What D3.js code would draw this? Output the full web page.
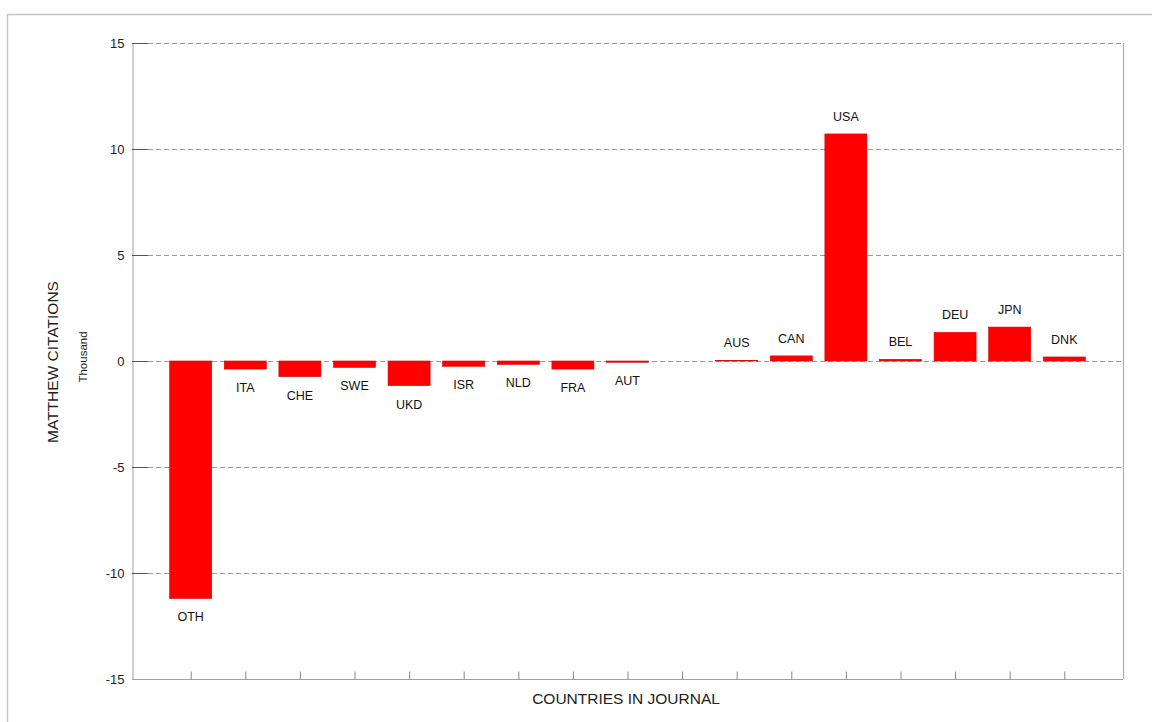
<!DOCTYPE html>
<html>
<head>
<meta charset="utf-8">
<script src="https://cdn.jsdelivr.net/npm/d3@7"></script>
<style>
  html, body { margin: 0; padding: 0; background: #fff; }
  svg { display: block; font-family: "Liberation Sans", Arial, Helvetica, sans-serif; }
</style>
</head>
<body>
<svg id="chart" width="1152" height="722"></svg>
<script>
// Data (values in thousands)
const categories = ["OTH","ITA","CHE","SWE","UKD","ISR","NLD","FRA","AUT","","AUS","CAN","USA","BEL","DEU","JPN","DNK"];
const values     = [-11.2,-0.38,-0.74,-0.3,-1.16,-0.25,-0.16,-0.38,-0.06,0,0.03,0.24,10.71,0.08,1.35,1.6,0.19];
const yTicks = [-15,-10,-5,0,5,10,15];
const yLabel = "MATTHEW CITATIONS";
const yUnit = "Thousand";
const xLabel = "COUNTRIES IN JOURNAL";

const svg = d3.select("#chart");
const L = 132, R = 1123, T = 43, B = 679;

// Outer frame
svg.append("path").attr("d", `M7.5,722 L7.5,14.5 L1152,14.5`)
  .attr("fill","none").attr("stroke","#c4c4c4").attr("stroke-width",1.5);

const y = d3.scaleLinear().domain([-15,15]).range([B,T]);
const x = d3.scalePoint().domain(d3.range(categories.length)).range([L,R]).padding(1.075);
const barW = x.step()*0.77;

// Grid lines (dashed)
svg.append("g").selectAll("line").data(yTicks.filter(v => v > -15)).join("line")
  .attr("x1", L).attr("x2", R)
  .attr("y1", d => Math.round(y(d))+0.5).attr("y2", d => Math.round(y(d))+0.5)
  .attr("stroke","#9a9a9a").attr("stroke-width",1).attr("stroke-dasharray","5,3");

// Left axis with inner ticks
const yAxis = d3.axisLeft(y).tickValues(yTicks).tickSize(0).tickPadding(8)
  .tickFormat(d => String(d));
const gy = svg.append("g").attr("transform",`translate(${L+0.5},0)`).call(yAxis);
gy.select(".domain").attr("stroke","#a0a0a0");
gy.selectAll(".tick text").attr("font-size",13).attr("fill","#222")
  .attr("font-family","'Liberation Sans', Arial, sans-serif");
svg.append("g").selectAll("line").data(yTicks).join("line")
  .attr("x1", L).attr("x2", L+16)
  .attr("y1", d => Math.round(y(d))+0.5).attr("y2", d => Math.round(y(d))+0.5)
  .attr("stroke","#555").attr("stroke-width",1);

// Bottom axis with inner ticks
const xAxis = d3.axisBottom(x).tickSize(-8).tickFormat("");
const gx = svg.append("g").attr("transform",`translate(0,${B+0.5})`).call(xAxis);
gx.select(".domain").attr("stroke","#a0a0a0").attr("d", `M${L},0H${R}`);
gx.selectAll(".tick line").attr("stroke","#888");

// Right border
svg.append("line").attr("x1",R+0.5).attr("x2",R+0.5).attr("y1",T).attr("y2",B)
  .attr("stroke","#b0b0b0").attr("stroke-width",1.2);

// Bars
svg.append("g").selectAll("rect").data(values).join("rect")
  .attr("x", (d,i) => x(i) - barW/2)
  .attr("width", barW)
  .attr("y", d => y(Math.max(0,d)))
  .attr("height", d => Math.abs(y(d) - y(0)))
  .attr("fill","#ff0000")
  .attr("stroke","#d40000").attr("stroke-width",0.6);

// Bar labels
svg.append("g").selectAll("text").data(values).join("text")
  .attr("x", (d,i) => x(i))
  .attr("y", d => d >= 0 ? y(d) - 13 : y(d) + 23)
  .attr("text-anchor","middle")
  .attr("font-size",12.5).attr("fill","#111")
  .text((d,i) => categories[i]);

// Axis titles
svg.append("text")
  .attr("transform",`translate(58,362) rotate(-90)`)
  .attr("text-anchor","middle").attr("font-size",15.5).attr("fill","#222")
  .text(yLabel);
svg.append("text")
  .attr("transform",`translate(87,357) rotate(-90)`)
  .attr("text-anchor","middle").attr("font-size",11.5).attr("fill","#222")
  .text(yUnit);
svg.append("text")
  .attr("x", 626).attr("y", 704)
  .attr("text-anchor","middle").attr("font-size",15.5).attr("fill","#222")
  .text(xLabel);
</script>
</body>
</html>
